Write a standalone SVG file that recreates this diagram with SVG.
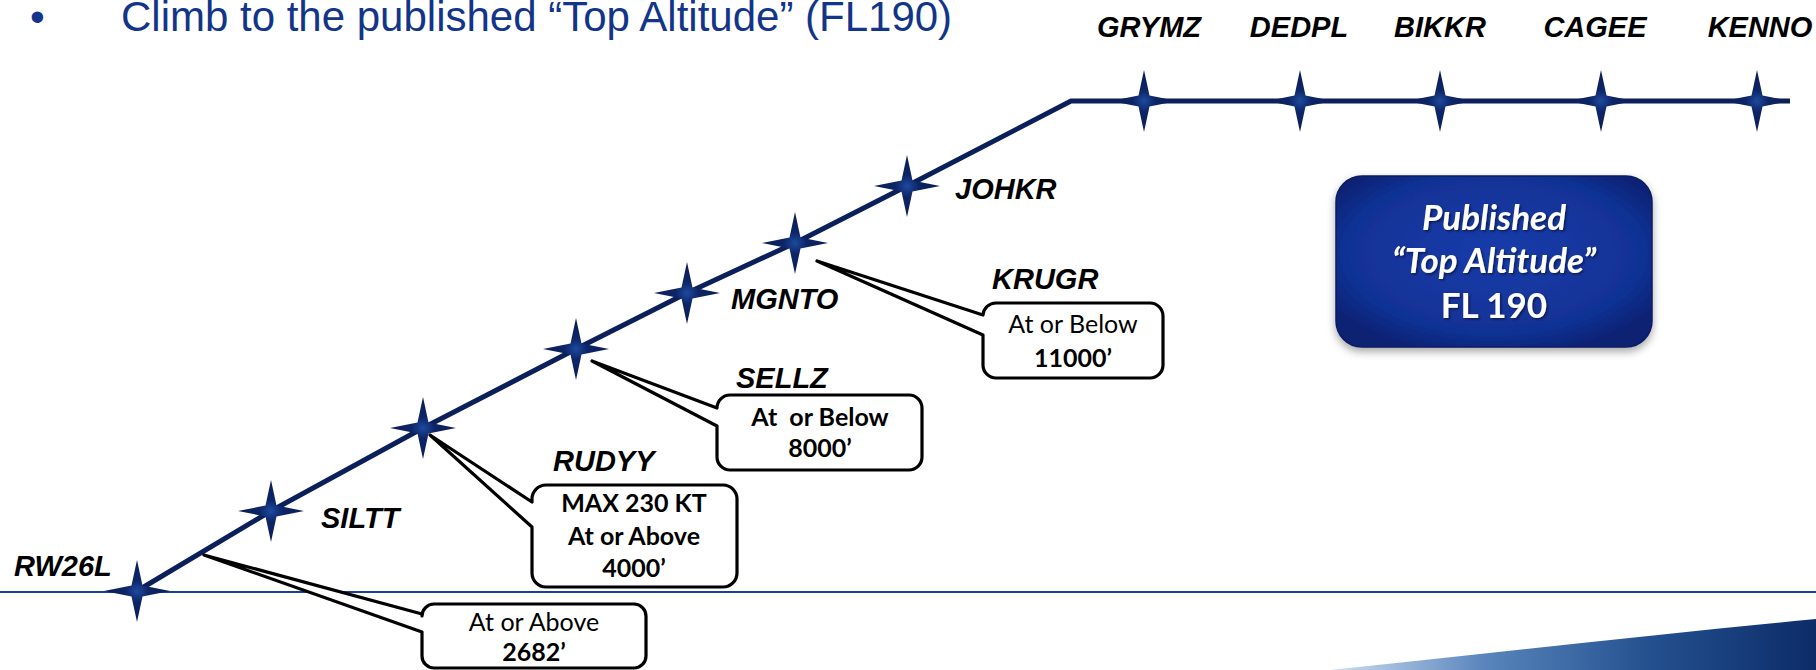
<svg xmlns="http://www.w3.org/2000/svg" width="1816" height="670" viewBox="0 0 1816 670">
  <style>
    .wp { font-family: "Liberation Sans", Arial, sans-serif; font-weight: bold; font-style: italic; font-size: 29px; fill: #000; }
    .title { font-family: "Liberation Sans", Arial, sans-serif; font-size: 42px; fill: #12358a; }
    .note { font-family: Lato, "Open Sans", sans-serif; font-size: 25px; fill: #000; text-anchor: middle; }
    .b { font-weight: bold; }
    .callout { fill: #fff; stroke: #000; stroke-width: 3.2; stroke-linejoin: round; }
    .route { fill: none; stroke: #0b1f5a; stroke-width: 5; stroke-linejoin: round; }
    .pub { font-family: Lato, "Open Sans", sans-serif; font-weight: bold; font-size: 35px; fill: #fff; text-anchor: middle; }
  </style>
  <defs>
    <radialGradient id="starFill" cx="0.5" cy="0.5" r="0.5">
      <stop offset="0" stop-color="#1d4a9e"/>
      <stop offset="0.35" stop-color="#0d2566"/>
      <stop offset="1" stop-color="#0a1d55"/>
    </radialGradient>
    <path id="star" d="M0,-31 L5.5,-5.5 L33,0 L5.5,5.5 L0,31 L-5.5,5.5 L-33,0 L-5.5,-5.5 Z" fill="url(#starFill)"/>
    <radialGradient id="pubFill" cx="0.5" cy="0.45" r="0.62">
      <stop offset="0" stop-color="#1a3cab"/>
      <stop offset="0.75" stop-color="#113295"/>
      <stop offset="1" stop-color="#0b2172"/>
    </radialGradient>
    <linearGradient id="swoosh" x1="1340" y1="0" x2="1816" y2="0" gradientUnits="userSpaceOnUse">
      <stop offset="0" stop-color="#c9d9ee"/>
      <stop offset="0.3" stop-color="#5a86bd"/>
      <stop offset="0.65" stop-color="#24508f"/>
      <stop offset="1" stop-color="#0c2c68"/>
    </linearGradient>
    <filter id="shadow" x="-10%" y="-10%" width="120%" height="130%">
      <feDropShadow dx="0" dy="4" stdDeviation="4" flood-color="#000" flood-opacity="0.35"/>
    </filter>
    <filter id="textShadow" x="-5%" y="-20%" width="110%" height="140%">
      <feDropShadow dx="1.5" dy="1.5" stdDeviation="1" flood-color="#000" flood-opacity="0.5"/>
    </filter>
  </defs>

  <rect width="1816" height="670" fill="#fff"/>

  <!-- heading -->
  <text class="title" x="30" y="31">•</text>
  <text class="title" x="121" y="31">Climb to the published “Top Altitude” (FL190)</text>

  <!-- ground line and corner swoosh -->
  <line x1="0" y1="592" x2="1816" y2="592" stroke="#1c3d98" stroke-width="2"/>
  <path d="M1330,670 C1500,652 1660,634 1816,619 V670 Z" fill="url(#swoosh)"/>

  <!-- route line -->
  <g id="connectors">
    <polyline class="route" points="137,591 271,511 423,428 576,349 687,293 795,243 907,186 1071,101 1790,101"/>
  </g>

  <!-- waypoints -->
  <g id="RW26L"><use href="#star" x="137" y="591"/><text class="wp" x="14" y="576">RW26L</text></g>
  <g id="SILTT"><use href="#star" x="271" y="511"/><text class="wp" x="321" y="528">SILTT</text></g>
  <g id="RUDYY"><use href="#star" x="423" y="428"/><text class="wp" x="553" y="471">RUDYY</text></g>
  <g id="SELLZ"><use href="#star" x="576" y="349"/><text class="wp" x="736" y="388">SELLZ</text></g>
  <g id="MGNTO"><use href="#star" x="687" y="293"/><text class="wp" x="731" y="309">MGNTO</text></g>
  <g id="KRUGR"><use href="#star" x="795" y="243"/><text class="wp" x="992" y="289">KRUGR</text></g>
  <g id="JOHKR"><use href="#star" x="907" y="186"/><text class="wp" x="955" y="199">JOHKR</text></g>
  <g id="GRYMZ"><use href="#star" x="1144" y="101"/><text class="wp" x="1149" y="37" text-anchor="middle">GRYMZ</text></g>
  <g id="DEDPL"><use href="#star" x="1300" y="101"/><text class="wp" x="1299" y="37" text-anchor="middle">DEDPL</text></g>
  <g id="BIKKR"><use href="#star" x="1440" y="101"/><text class="wp" x="1440" y="37" text-anchor="middle">BIKKR</text></g>
  <g id="CAGEE"><use href="#star" x="1601" y="101"/><text class="wp" x="1595" y="37" text-anchor="middle">CAGEE</text></g>
  <g id="KENNO"><use href="#star" x="1757" y="101"/><text class="wp" x="1760" y="37" text-anchor="middle">KENNO</text></g>

  <!-- altitude / speed restriction callouts -->
  <g id="callout-2682">
    <path class="callout" d="M434,604 H634 A12,12 0 0 1 646,616 V656 A12,12 0 0 1 634,668 H434 A12,12 0 0 1 422,656 V632 L204,555 L422,614 V616 A12,12 0 0 1 434,604 Z"/>
    <text class="note" x="534" y="631">At or Above</text>
    <text class="note b" x="534" y="661">2682’</text>
  </g>
  <g id="callout-rudyy">
    <path class="callout" d="M546,485 H723 A14,14 0 0 1 737,499 V573 A14,14 0 0 1 723,587 H546 A14,14 0 0 1 532,573 V527 L430,435 L532,502 V499 A14,14 0 0 1 546,485 Z"/>
    <text class="note b" x="634" y="512">MAX 230 KT</text>
    <text class="note b" x="634" y="545">At or Above</text>
    <text class="note b" x="634" y="577">4000’</text>
  </g>
  <g id="callout-sellz">
    <path class="callout" d="M730,395 H909 A13,13 0 0 1 922,408 V457 A13,13 0 0 1 909,470 H730 A13,13 0 0 1 717,457 V426 L592,361 L717,408 A13,13 0 0 1 730,395 Z"/>
    <text class="note b" x="820" y="426" xml:space="preserve">At  or Below</text>
    <text class="note b" x="820" y="457">8000’</text>
  </g>
  <g id="callout-krugr">
    <path class="callout" d="M996,303 H1150 A13,13 0 0 1 1163,316 V365 A13,13 0 0 1 1150,378 H996 A13,13 0 0 1 983,365 V335 L817,261 L983,315 A13,13 0 0 1 996,303 Z"/>
    <text class="note" x="1073" y="333">At or Below</text>
    <text class="note b" x="1073" y="367">11000’</text>
  </g>

  <!-- top altitude badge -->
  <g id="top-altitude">
    <rect x="1336" y="176" width="316" height="171" rx="26" fill="url(#pubFill)" stroke="#0a1c62" stroke-width="1.5" filter="url(#shadow)"/>
    <g filter="url(#textShadow)">
      <text class="pub" x="1494" y="230" font-style="italic">Published</text>
      <text class="pub" x="1494" y="273" font-style="italic">“Top Altitude”</text>
      <text class="pub" x="1494" y="318">FL 190</text>
    </g>
  </g>
</svg>
